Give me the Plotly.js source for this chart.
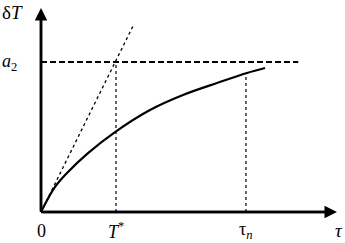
<!DOCTYPE html>
<html>
<head>
<meta charset="utf-8">
<script src="https://cdn.plot.ly/plotly-3.0.1.min.js"></script>
<style>html,body{margin:0;padding:0;background:#fff;}#chart{width:345px;height:243px;}</style>
</head>
<body>
<div id="chart"></div>
<script>
// Response curve δT(τ) in units where T* = 1 and a2 = 1
const curveT = [0, 0.187, 0.36, 0.627, 0.987, 1.453, 1.893, 2.347, 2.747, 2.987];
const curveV = [0, 0.167, 0.267, 0.393, 0.533, 0.68, 0.78, 0.86, 0.927, 0.96];
// tangent at origin
const tangentT = [0, 1.24];
const tangentV = [0, 1.253];
// asymptote level a2
const a2T = [0, 3.43];
const a2V = [1, 1];
// marked abscissae
const tStar = 1;
const tauN = 2.733;
const tauNV = 0.927;
const tickVals = [0, tStar, tauN];
const tickText = ['0', '<i>T</i><sup>*</sup>', 'τ<sub><i>n</i></sub>'];
const xMax = 3.947, yMax = 1.36;

const serif = 'Times New Roman';
const traces = [
  {x: a2T, y: a2V, mode: 'lines', line: {color: '#000', width: 2, dash: '6px,3px'}},
  {x: tangentT, y: tangentV, mode: 'lines', line: {color: '#000', width: 1.3, dash: 'dot'}},
  {x: [tStar, tStar], y: [0, 1], mode: 'lines', line: {color: '#000', width: 1.2, dash: 'dot'}},
  {x: [tauN, tauN], y: [0, tauNV], mode: 'lines', line: {color: '#000', width: 1.2, dash: 'dot'}},
  {x: curveT, y: curveV, mode: 'lines', line: {color: '#000', width: 2.2, shape: 'spline'}}
];

const annotations = [
  {x: xMax, y: 0, ax: 0, ay: 0, axref: 'x', ayref: 'y', xref: 'x', yref: 'y', text: '', showarrow: true, arrowhead: 2, arrowwidth: 2.5, arrowsize: 1, arrowcolor: '#000'},
  {x: 0, y: yMax, ax: 0, ay: 0, axref: 'x', ayref: 'y', xref: 'x', yref: 'y', text: '', showarrow: true, arrowhead: 2, arrowwidth: 2.5, arrowsize: 1, arrowcolor: '#000'},
  {x: 0, y: 1, xref: 'paper', yref: 'paper', xanchor: 'left', yanchor: 'top', text: 'δ<i>T</i>', showarrow: false, font: {family: serif, size: 19, color: '#000'}},
  {x: 0, y: 1, xref: 'paper', yref: 'y', xanchor: 'left', yanchor: 'middle', text: '<i>a</i><sub>2</sub>', showarrow: false, font: {family: serif, size: 18, color: '#000'}},
  {x: 339/345, y: -0.125, xref: 'paper', yref: 'y', xanchor: 'center', yanchor: 'middle', text: '<i>τ</i>', showarrow: false, font: {family: serif, size: 19, color: '#000'}}
];
tickVals.forEach((v, i) => {
  annotations.push({x: v, y: -0.125, xref: 'x', yref: 'y', xanchor: 'center', yanchor: 'middle', text: tickText[i], showarrow: false, font: {family: serif, size: 18, color: '#000'}});
});

const layout = {
  width: 345, height: 243,
  margin: {l: 0, r: 0, t: 0, b: 0, pad: 0},
  paper_bgcolor: '#fff', plot_bgcolor: '#fff',
  showlegend: false,
  font: {family: serif},
  xaxis: {range: [-41/75, 304/75], visible: false, fixedrange: true},
  yaxis: {range: [-31/150, 212/150], visible: false, fixedrange: true},
  annotations: annotations,
  shapes: [
    {type: 'line', xref: 'x', yref: 'y', x0: 0, y0: 0, x1: xMax - 0.1, y1: 0, line: {color: '#000', width: 2.5}},
    {type: 'line', xref: 'x', yref: 'y', x0: 0, y0: 0, x1: 0, y1: yMax - 0.06, line: {color: '#000', width: 2.5}}
  ]
};
Plotly.newPlot('chart', traces, layout, {displayModeBar: false, staticPlot: true});
</script>
</body>
</html>
